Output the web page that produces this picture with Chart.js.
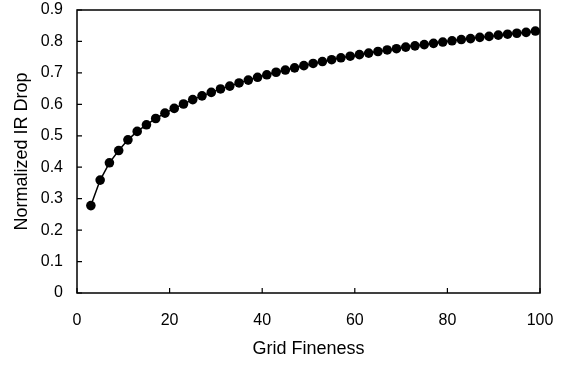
<!DOCTYPE html>
<html>
<head>
<meta charset="utf-8">
<script src="https://cdn.jsdelivr.net/npm/chart.js@4.4.1/dist/chart.umd.min.js"></script>
<style>
  html, body { margin: 0; padding: 0; background: #fff; }
  #wrap { width: 566px; height: 366px; }
</style>
</head>
<body>
<div id="wrap"><canvas id="irChart" width="566" height="366"></canvas></div>
<script>
// Grid fineness (x) and normalized IR drop (y)
const gridFineness = [
  3, 5, 7, 9, 11, 13, 15, 17, 19, 21, 23, 25, 27, 29, 31, 33, 35,
  37, 39, 41, 43, 45, 47, 49, 51, 53, 55, 57, 59, 61, 63, 65, 67,
  69, 71, 73, 75, 77, 79, 81, 83, 85, 87, 89, 91, 93, 95, 97, 99,
];
const irDrop = [
  0.278, 0.359, 0.414, 0.453, 0.487, 0.514, 0.535, 0.555, 0.572, 0.587,
  0.601, 0.615, 0.627, 0.638, 0.649, 0.658, 0.668, 0.677, 0.686, 0.694,
  0.702, 0.709, 0.716, 0.723, 0.730, 0.736, 0.742, 0.748, 0.753, 0.758,
  0.763, 0.768, 0.773, 0.777, 0.782, 0.786, 0.790, 0.794, 0.798, 0.802,
  0.806, 0.809, 0.813, 0.816, 0.820, 0.823, 0.826, 0.829, 0.833,
];
const xTicks = [0, 20, 40, 60, 80, 100];
const yTicks = [0, 0.1, 0.2, 0.3, 0.4, 0.5, 0.6, 0.7, 0.8, 0.9];

const FONT = "'Liberation Sans', Arial, Helvetica, sans-serif";

// Draws the box round the plot and the short inward tick marks
const frameTicks = {
  id: "frameTicks",
  afterDraw(chart) {
    const { ctx, chartArea: a, scales } = chart;
    ctx.save();
    ctx.strokeStyle = "#000";
    ctx.lineWidth = 1.5;
    ctx.strokeRect(a.left, a.top, a.right - a.left, a.bottom - a.top);
    ctx.lineWidth = 1.2;
    ctx.beginPath();
    xTicks.forEach((v) => {
      const px = scales.x.getPixelForValue(v);
      ctx.moveTo(px, a.bottom);
      ctx.lineTo(px, a.bottom - 5);
    });
    yTicks.forEach((v) => {
      const py = scales.y.getPixelForValue(v);
      ctx.moveTo(a.left, py);
      ctx.lineTo(a.left + 5, py);
    });
    ctx.stroke();
    ctx.restore();
  },
};

new Chart(document.getElementById("irChart").getContext("2d"), {
  type: "line",
  data: {
    datasets: [
      {
        data: gridFineness.map((x, i) => ({ x, y: irDrop[i] })),
        borderColor: "#000",
        borderWidth: 1.5,
        backgroundColor: "#000",
        pointRadius: 4.8,
        pointBorderWidth: 0,
        pointBackgroundColor: "#000",
        tension: 0,
      },
    ],
  },
  options: {
    responsive: false,
    animation: false,
    events: [],
    layout: { padding: { top: 10, right: 26, left: 0, bottom: 0 } },
    plugins: { legend: { display: false }, tooltip: { enabled: false } },
    scales: {
      x: {
        type: "linear",
        min: 0,
        max: 100,
        afterBuildTicks: (s) => { s.ticks = xTicks.map((v) => ({ value: v })); },
        afterFit: (s) => {
          s.height = 73;
          s.paddingLeft = 0;
          s.paddingRight = 0;
        },
        grid: { drawOnChartArea: false, drawTicks: false },
        border: { display: false },
        ticks: {
          padding: 18,
          maxRotation: 0,
          color: "#000",
          font: { family: FONT, size: 16 },
        },
        title: {
          display: true,
          text: "Grid Fineness",
          color: "#000",
          font: { family: FONT, size: 18 },
          padding: { top: 0, bottom: 6 },
        },
      },
      y: {
        min: 0,
        max: 0.9,
        afterBuildTicks: (s) => { s.ticks = yTicks.map((v) => ({ value: v })); },
        afterFit: (s) => {
          s.width = 77;
          s.paddingTop = 0;
          s.paddingBottom = 0;
        },
        grid: { drawOnChartArea: false, drawTicks: false },
        border: { display: false },
        ticks: {
          padding: 14,
          color: "#000",
          font: { family: FONT, size: 16 },
          callback: (v) => String(Math.round(v * 10) / 10),
        },
        title: {
          display: true,
          text: "Normalized IR Drop",
          color: "#000",
          font: { family: FONT, size: 18 },
          padding: { top: 11, bottom: 0 },
        },
      },
    },
  },
  plugins: [frameTicks],
});
</script>
</body>
</html>
